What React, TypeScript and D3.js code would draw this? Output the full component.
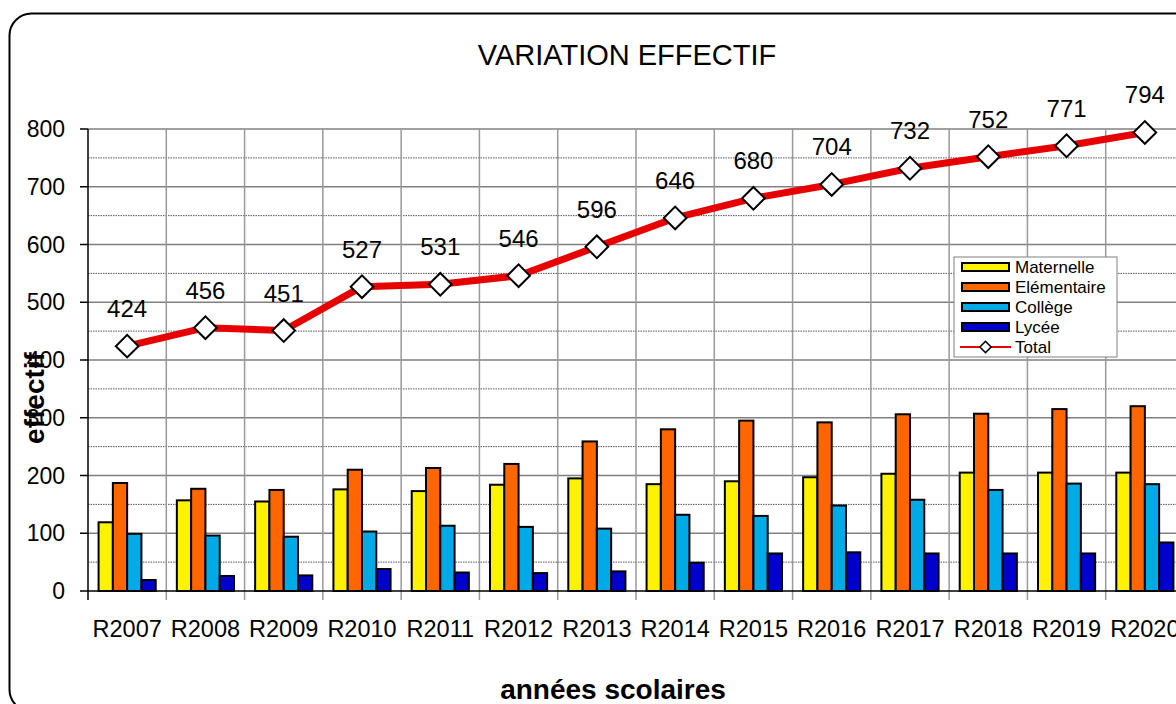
import React, { useEffect, useRef } from 'react';
import * as d3 from 'd3';

const years = ['R2007', 'R2008', 'R2009', 'R2010', 'R2011', 'R2012', 'R2013', 'R2014', 'R2015', 'R2016', 'R2017', 'R2018', 'R2019', 'R2020'];
const maternelle = [119, 157, 155, 176, 173, 184, 195, 185, 190, 197, 203, 205, 205, 205];
const elementaire = [187, 177, 175, 210, 213, 220, 259, 280, 295, 292, 306, 307, 315, 320];
const college = [99, 96, 94, 103, 113, 111, 108, 132, 130, 148, 158, 175, 186, 185];
const lycee = [19, 26, 27, 38, 32, 31, 34, 49, 65, 67, 65, 65, 65, 84];
const total = [424, 456, 451, 527, 531, 546, 596, 646, 680, 704, 732, 752, 771, 794];
const yTicks = [0, 100, 200, 300, 400, 500, 600, 700, 800];

const seriesNames = ['Maternelle', 'Elémentaire', 'Collège', 'Lycée'];
const seriesValues = [maternelle, elementaire, college, lycee];
const colors = ['#fff200', '#ff6600', '#00aae6', '#0000cc'];

const App = () => {
  const svgRef = useRef<SVGSVGElement>(null);

  useEffect(() => {
    document.body.style.margin = '0';
    const svg = d3.select(svgRef.current);
    svg.selectAll('*').remove();

    const left = 88, right = 1184, top = 129, bottom = 591;
    const font = 'Liberation Sans, Arial, sans-serif';

    // outer frame
    svg.append('rect')
      .attr('x', 9.5).attr('y', 13.5)
      .attr('width', 1200).attr('height', 698)
      .attr('rx', 22)
      .attr('fill', 'white')
      .attr('stroke', 'black')
      .attr('stroke-width', 2);

    const x = d3.scaleBand().domain(years).range([left, right]);
    const xs = d3.scaleBand().domain(seriesNames).range([0, x.bandwidth()]).paddingOuter(0.74);
    const y = d3.scaleLinear().domain([0, 800]).range([bottom, top]);

    // minor dotted gridlines
    svg.append('g').selectAll('line')
      .data(d3.range(50, 800, 100))
      .enter().append('line')
      .attr('x1', left).attr('x2', right)
      .attr('y1', d => y(d)).attr('y2', d => y(d))
      .attr('stroke', '#555')
      .attr('stroke-width', 1)
      .attr('stroke-dasharray', '1.5,1');

    // major gridlines
    svg.append('g').selectAll('line')
      .data(yTicks.slice(1))
      .enter().append('line')
      .attr('x1', left).attr('x2', right)
      .attr('y1', d => y(d)).attr('y2', d => y(d))
      .attr('stroke', '#808080')
      .attr('stroke-width', 1.5);

    // vertical gridlines
    svg.append('g').selectAll('line')
      .data(years.slice(1))
      .enter().append('line')
      .attr('x1', d => x(d)!).attr('x2', d => x(d)!)
      .attr('y1', top).attr('y2', bottom + 9)
      .attr('stroke', '#999')
      .attr('stroke-width', 1.5);

    // bars
    seriesNames.forEach((name, si) => {
      svg.append('g').selectAll('rect')
        .data(seriesValues[si])
        .enter().append('rect')
        .attr('x', (d, i) => x(years[i])! + xs(name)!)
        .attr('y', d => y(d))
        .attr('width', xs.bandwidth())
        .attr('height', d => y(0) - y(d))
        .attr('fill', colors[si])
        .attr('stroke', 'black')
        .attr('stroke-width', 2);
    });

    // axes
    svg.append('line')
      .attr('x1', left).attr('x2', right)
      .attr('y1', bottom).attr('y2', bottom)
      .attr('stroke', 'black').attr('stroke-width', 1.5);
    svg.append('line')
      .attr('x1', left).attr('x2', left)
      .attr('y1', top).attr('y2', bottom + 9)
      .attr('stroke', 'black').attr('stroke-width', 1.5);

    svg.append('g').selectAll('line')
      .data(yTicks)
      .enter().append('line')
      .attr('x1', left - 8).attr('x2', left)
      .attr('y1', d => y(d)).attr('y2', d => y(d))
      .attr('stroke', 'black').attr('stroke-width', 1.5);

    svg.append('g').selectAll('text')
      .data(yTicks)
      .enter().append('text')
      .attr('x', 65)
      .attr('y', d => y(d) + 8)
      .attr('text-anchor', 'end')
      .style('font-family', font)
      .attr('font-size', 23)
      .text(d => d);

    svg.append('g').selectAll('text')
      .data(years)
      .enter().append('text')
      .attr('x', d => x(d)! + x.bandwidth() / 2)
      .attr('y', 637)
      .attr('text-anchor', 'middle')
      .style('font-family', font)
      .attr('font-size', 23.5)
      .text(d => d);

    // total line
    const line = d3.line<number>()
      .x((d, i) => x(years[i])! + x.bandwidth() / 2)
      .y(d => y(d));

    svg.append('path')
      .datum(total)
      .attr('d', line)
      .attr('fill', 'none')
      .attr('stroke', '#e60000')
      .attr('stroke-width', 7)
      .attr('stroke-linejoin', 'round');

    const diamond = d3.symbol().type(d3.symbolSquare).size(16 * 16);
    svg.append('g').selectAll('path')
      .data(total)
      .enter().append('path')
      .attr('d', diamond)
      .attr('transform', (d, i) => `translate(${x(years[i])! + x.bandwidth() / 2},${y(d)}) rotate(45)`)
      .attr('fill', 'white')
      .attr('stroke', 'black')
      .attr('stroke-width', 2);

    svg.append('g').selectAll('text')
      .data(total)
      .enter().append('text')
      .attr('x', (d, i) => x(years[i])! + x.bandwidth() / 2)
      .attr('y', d => y(d) - 29)
      .attr('text-anchor', 'middle')
      .style('font-family', font)
      .attr('font-size', 24)
      .text(d => d);

    // titles
    svg.append('text')
      .attr('x', 627).attr('y', 65)
      .attr('text-anchor', 'middle')
      .style('font-family', font)
      .attr('font-size', 29)
      .text('VARIATION EFFECTIF');

    svg.append('text')
      .attr('x', 613).attr('y', 699)
      .attr('text-anchor', 'middle')
      .style('font-family', font)
      .attr('font-size', 28)
      .attr('font-weight', 'bold')
      .text('années scolaires');

    svg.append('text')
      .attr('transform', 'translate(44,398) rotate(-90)')
      .attr('text-anchor', 'middle')
      .style('font-family', font)
      .attr('font-size', 28)
      .attr('font-weight', 'bold')
      .text('effectif');

    // legend
    const legend = svg.append('g').attr('transform', 'translate(954,257)');
    legend.append('rect')
      .attr('width', 163).attr('height', 100)
      .attr('fill', 'white')
      .attr('stroke', '#808080')
      .attr('stroke-width', 1);

    seriesNames.forEach((name, i) => {
      legend.append('rect')
        .attr('x', 8).attr('y', 6 + i * 20)
        .attr('width', 47).attr('height', 8)
        .attr('fill', colors[i])
        .attr('stroke', 'black')
        .attr('stroke-width', 2);
      legend.append('text')
        .attr('x', 61).attr('y', 16 + i * 20)
        .style('font-family', font)
        .attr('font-size', 17)
        .text(name);
    });
    legend.append('line')
      .attr('x1', 6).attr('x2', 57)
      .attr('y1', 90).attr('y2', 90)
      .attr('stroke', '#e60000').attr('stroke-width', 2);
    legend.append('path')
      .attr('d', d3.symbol().type(d3.symbolSquare).size(64))
      .attr('transform', 'translate(31.5,90) rotate(45)')
      .attr('fill', 'white')
      .attr('stroke', 'black')
      .attr('stroke-width', 1.5);
    legend.append('text')
      .attr('x', 61).attr('y', 96)
      .style('font-family', font)
      .attr('font-size', 17)
      .text('Total');
  }, []);

  return <svg ref={svgRef} width={1176} height={704} style={{ display: 'block' }}></svg>;
};

export default App;
